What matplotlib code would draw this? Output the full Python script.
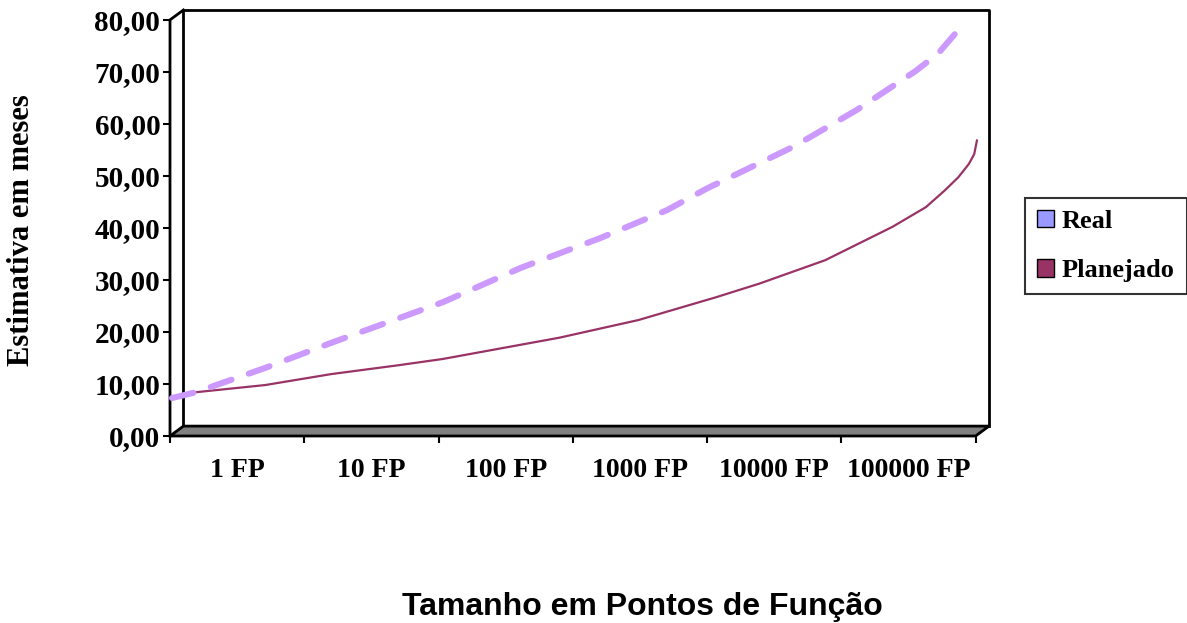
import matplotlib.pyplot as plt
from matplotlib.patches import Patch, Polygon

# posições na escala de categorias (0 = início, 6 = fim do eixo)
real_x = [0.015, 0.19, 0.71, 1.20, 1.70, 2.03, 2.62, 3.20, 3.70, 4.00,
          4.65, 5.11, 5.55, 5.72, 5.85]
real_y = [7.3, 8.4, 13.1, 17.9, 22.6, 25.7, 32.4, 38.0, 43.4, 47.6,
          55.7, 62.6, 70.1, 73.5, 77.4]

plan_x = [0.13, 0.71, 1.20, 1.70, 2.03, 2.90, 3.49, 4.07, 4.39, 4.88,
          5.13, 5.38, 5.63, 5.77, 5.87, 5.95, 5.99, 6.01]
plan_y = [8.25, 9.8, 11.9, 13.6, 14.8, 18.9, 22.3, 26.7, 29.3, 33.8,
          37.0, 40.2, 44.0, 47.2, 49.7, 52.3, 54.2, 56.8]

categorias = ['1 FP', '10 FP', '100 FP', '1000 FP', '10000 FP', '100000 FP']
yticks = [0, 10, 20, 30, 40, 50, 60, 70, 80]

serif = ['Liberation Serif', 'DejaVu Serif']

fig = plt.figure(figsize=(11.87, 6.23), dpi=100)
ax = fig.add_axes([170 / 1187, 187 / 623, 819 / 1187, 426 / 623])

# profundidade do efeito 3D
dx, dy = 0.10, 1.9
ymax = 80
ax.set_xlim(0, 6 + dx)
ax.set_ylim(0, ymax + dy)
for s in ax.spines.values():
    s.set_visible(False)

# parede do fundo, piso cinza e eixo frontal
ax.plot([dx, dx, 6 + dx, 6 + dx], [dy, ymax + dy, ymax + dy, dy],
        color='black', lw=2, clip_on=False, zorder=1)
piso = Polygon([(0, 0), (6, 0), (6 + dx, dy), (dx, dy)], closed=True,
               facecolor='#808080', edgecolor='black', lw=2, clip_on=False, zorder=2)
ax.add_patch(piso)
ax.plot([0, 0, dx], [0, ymax, ymax + dy], color='black', lw=2,
        clip_on=False, zorder=3)

ax.plot(plan_x, plan_y, color='#993366', lw=1.6, clip_on=False, zorder=4)
ax.plot(real_x, real_y, color='#CC99FF', lw=4.4, dashes=(3.6, 3.0),
        dash_capstyle='round', clip_on=False, zorder=5)

ax.set_yticks(yticks)
ax.set_yticklabels([f'{v:.2f}'.replace('.', ',') for v in yticks],
                   family=serif, fontweight='bold', fontsize=21)
ax.tick_params(axis='y', length=5, width=1.5, pad=2)

ax.set_xticks(range(7))
ax.set_xticklabels([])
ax.set_xticks([i + 0.5 for i in range(6)], minor=True)
ax.set_xticklabels(categorias, minor=True, family=serif,
                   fontweight='bold', fontsize=20)
ax.tick_params(axis='x', which='major', length=5, width=1.5)
ax.tick_params(axis='x', which='minor', length=0, pad=16)

fig.text(0.0185, 0.63, 'Estimativa em meses', rotation=90, ha='center',
         va='center', family=serif, fontweight='bold', fontsize=22)
fig.text(0.541, 0.026, 'Tamanho em Pontos de Função', ha='center',
         va='center', family='Liberation Sans', fontweight='bold', fontsize=23)

handles = [Patch(facecolor='#9999FF', edgecolor='black', label='Real'),
           Patch(facecolor='#993366', edgecolor='black', label='Planejado')]
leg = fig.legend(handles=handles, loc='upper left',
                 bbox_to_anchor=(1025 / 1187, 1 - 198 / 623),
                 prop={'family': serif, 'weight': 'bold', 'size': 19},
                 fancybox=False, frameon=True, edgecolor='black',
                 handlelength=0.65, handleheight=0.65, handletextpad=0.3,
                 borderpad=0.45, labelspacing=1.0, borderaxespad=0)
leg.get_frame().set_linewidth(1.5)

fig.savefig('out.png', dpi=100)
